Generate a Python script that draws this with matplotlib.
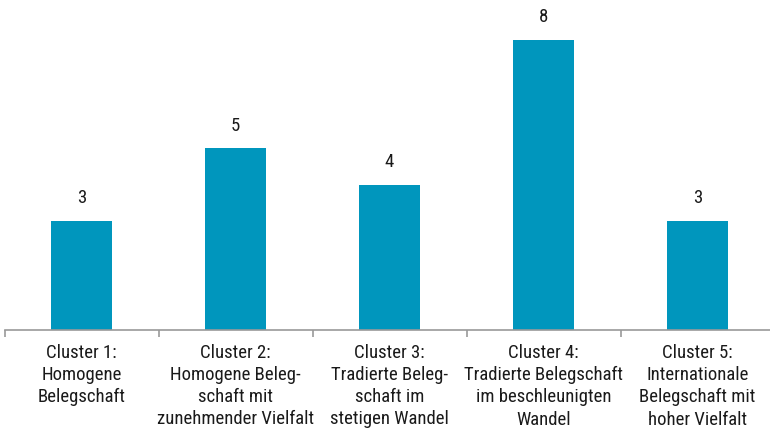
import matplotlib.pyplot as plt
import numpy as np

categories = [
    "Cluster 1:\nHomogene\nBelegschaft",
    "Cluster 2:\nHomogene Beleg-\nschaft mit\nzunehmender Vielfalt",
    "Cluster 3:\nTradierte Beleg-\nschaft im\nstetigen Wandel",
    "Cluster 4:\nTradierte Belegschaft\nim beschleunigten\nWandel",
    "Cluster 5:\nInternationale\nBelegschaft mit\nhoher Vielfalt",
]
values = [3, 5, 4, 8, 3]

plt.rcParams['font.family'] = ['Roboto Condensed', 'DejaVu Sans']

fig = plt.figure(figsize=(7.7, 4.48), dpi=100)
ax = fig.add_axes([4.5 / 770, 1 - 330 / 448, 1.0, 330 / 448])

x = np.arange(len(values))
ax.bar(x, values, width=0.4, color='#0096BD')
for xi, v in zip(x, values):
    ax.text(xi, v + 0.38, str(v), ha='center', va='bottom', fontsize=13.5, color='#1a1a1a')

ax.set_xlim(-0.5, 4.5)
ax.set_ylim(0, 330 / 36.3)
ax.set_yticks([])
ax.set_xticks(x)
ax.set_xticklabels(categories, fontsize=13.5, color='#1a1a1a', linespacing=1.3)
ax.tick_params(axis='x', which='major', length=0, pad=10)
ax.set_xticks(np.arange(-0.5, 5, 1), minor=True)
ax.tick_params(axis='x', which='minor', length=5, color='#999999', width=1.2)

for side in ['top', 'right', 'left']:
    ax.spines[side].set_visible(False)
ax.spines['bottom'].set_color('#999999')
ax.spines['bottom'].set_linewidth(1.2)

fig.savefig('out.png', dpi=100)
